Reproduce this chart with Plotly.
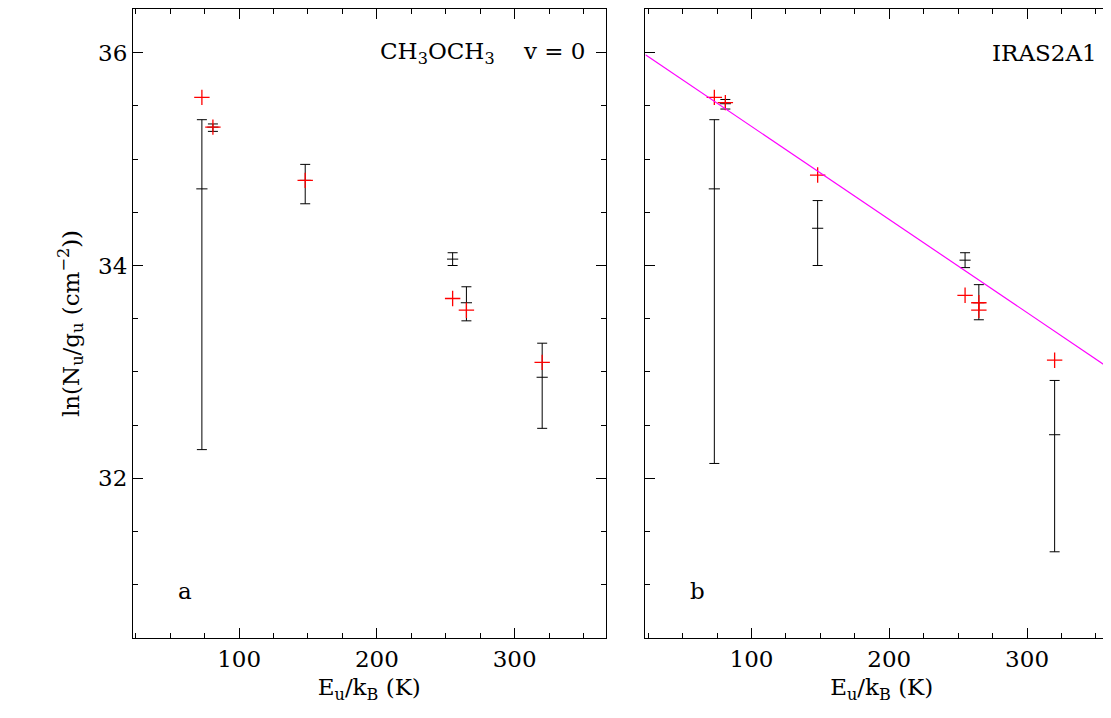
import plotly.graph_objects as go
from plotly.subplots import make_subplots

x = [73, 81, 148, 255, 265, 320]
a_c = [34.72, 35.30, 34.80, 34.06, 33.65, 32.95]
a_hi = [35.37, 35.33, 34.95, 34.12, 33.80, 33.27]
a_lo = [32.27, 35.26, 34.58, 34.00, 33.48, 32.47]
a_red_x = [73, 81, 148, 255, 265, 320]
a_red = [35.58, 35.30, 34.80, 33.69, 33.58, 33.09]

b_c = [34.72, 35.52, 34.35, 34.05, 33.65, 32.41]
b_hi = [35.37, 35.56, 34.61, 34.12, 33.82, 32.92]
b_lo = [32.14, 35.47, 34.00, 33.98, 33.49, 31.31]
b_red_x = [73, 81, 148, 255, 265, 265, 320]
b_red = [35.58, 35.53, 34.85, 33.72, 33.65, 33.58, 33.11]
fit_x = [23, 366]
fit_y = [35.98, 32.98]

fig = make_subplots(rows=1, cols=2, horizontal_spacing=0.0405)
font = dict(family="DejaVu Serif", size=23, color="black")

def add(col, c, hi, lo, rx, ry):
    fig.add_trace(go.Scatter(x=x, y=c, mode="markers",
        marker=dict(symbol="line-ew", size=8, line=dict(width=1, color="black")),
        error_y=dict(type="data", symmetric=False,
                     array=[h - v for h, v in zip(hi, c)],
                     arrayminus=[v - l for l, v in zip(lo, c)],
                     color="black", thickness=1, width=5),
        showlegend=False), row=1, col=col)
    fig.add_trace(go.Scatter(x=rx, y=ry, mode="markers",
        marker=dict(symbol="cross-thin", size=11, line=dict(width=1.3, color="red")),
        showlegend=False), row=1, col=col)

add(1, a_c, a_hi, a_lo, a_red_x, a_red)
add(2, b_c, b_hi, b_lo, b_red_x, b_red)
fig.add_trace(go.Scatter(x=fit_x, y=fit_y, mode="lines",
    line=dict(color="magenta", width=1.2), showlegend=False), row=1, col=2)

ax = dict(showgrid=False, zeroline=False, showline=True, linecolor="black", linewidth=1,
          mirror="allticks", ticks="inside", ticklen=10, tickcolor="black",
          tickfont=font, minor=dict(ticks="inside", ticklen=5, tickcolor="black"))
for c in (1, 2):
    fig.update_xaxes(range=[23, 366], dtick=100, minor_dtick=25,
                     title=dict(text="E<sub>u</sub>/k<sub>B</sub> (K)", font=font, standoff=8),
                     row=1, col=c, **ax)
    fig.update_yaxes(range=[30.5, 36.41], dtick=2, minor_dtick=0.5,
                     showticklabels=(c == 1), row=1, col=c, **ax)
fig.update_yaxes(title=dict(text="ln(N<sub>u</sub>/g<sub>u</sub> (cm<sup>−2</sup>))", font=font, standoff=12),
                 row=1, col=1)

for xref, yref, t in [("x domain", "y domain", "CH<sub>3</sub>OCH<sub>3</sub>    v = 0"),
                      ("x2 domain", "y2 domain", "IRAS2A1")]:
    fig.add_annotation(x=0.96, y=0.93, xref=xref, yref=yref,
                       text=t, showarrow=False, font=font, xanchor="right", yanchor="middle")
for xref, yref, t in [("x domain", "y domain", "a"), ("x2 domain", "y2 domain", "b")]:
    fig.add_annotation(x=0.09, y=0.075, xref=xref, yref=yref, text=t, showarrow=False,
                       font=font, xanchor="left", yanchor="middle")

fig.update_layout(width=1111, height=718, plot_bgcolor="white", paper_bgcolor="white",
                  margin=dict(l=125, r=1, t=1, b=88, autoexpand=False))
fig.write_html("out.html")
